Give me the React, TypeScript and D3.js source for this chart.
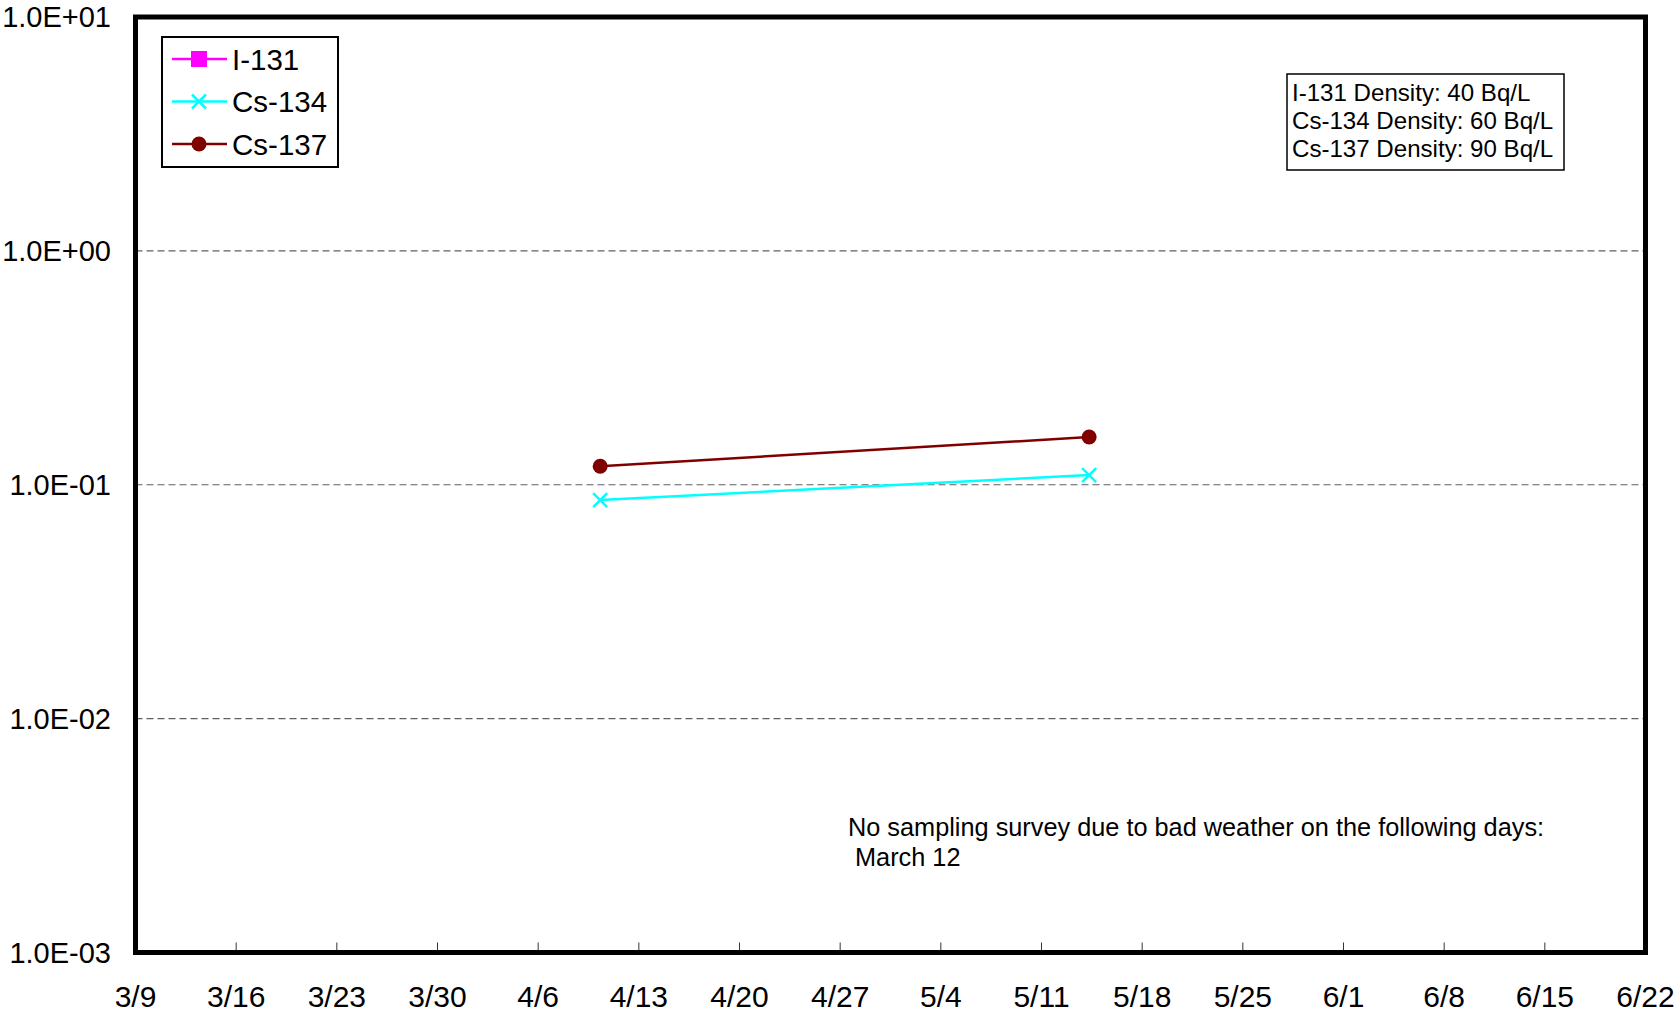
import React from "react";
import * as d3 from "d3";

const W = 1676;
const H = 1013;

const seriesNames = ["I-131", "Cs-134", "Cs-137"];
const seriesColors = ["#FF00FF", "#00FFFF", "#800000"];
const sampleDates = ["2011-04-10T07:30", "2011-05-14T07:30"];
const i131Values: (number | null)[] = [null, null];
const cs134Values: (number | null)[] = [0.086, 0.11];
const cs137Values: (number | null)[] = [0.12, 0.16];
const yTicks = [1e-3, 1e-2, 1e-1, 1, 10];
const densityLines = [
  "I-131 Density: 40 Bq/L",
  "Cs-134 Density: 60 Bq/L",
  "Cs-137 Density: 90 Bq/L",
];
const noteLines = [
  "No sampling survey due to bad weather on the following days:",
  " March 12",
];
const xStart = "2011-03-09T00:00";
const xEnd = "2011-06-22T00:00";

const FONT = "'Liberation Sans', Arial, sans-serif";

const parse = d3.utcParse("%Y-%m-%dT%H:%M");

function fmtExp(v: number) {
  const e = Math.round(Math.log10(v));
  const sign = e < 0 ? "-" : "+";
  const a = Math.abs(e);
  return `1.0E${sign}${a < 10 ? "0" + a : a}`;
}

export default function App() {
  const left = 135.5, right = 1645.5, top = 17, bottom = 952.5;
  const start = parse(xStart)!;
  const x = d3.scaleUtc().domain([start, parse(xEnd)!]).range([left, right]);
  const y = d3.scaleLog().domain([1e-3, 10]).range([bottom, top]);
  const weekTicks: Date[] = [];
  for (let i = 0; i <= 15; i++) weekTicks.push(d3.utcDay.offset(start, i * 7));
  const xFmt = d3.utcFormat("%-m/%-d");
  const dates = sampleDates.map((s) => parse(s)!);
  const allValues = [i131Values, cs134Values, cs137Values];

  const line = d3
    .line<[Date, number | null]>()
    .defined((d) => d[1] != null)
    .x((d) => x(d[0]))
    .y((d) => y(d[1] as number));

  const marker = (k: number, cx: number, cy: number, key: string) => {
    const c = seriesColors[k];
    if (k === 0) return <rect key={key} x={cx - 8} y={cy - 8} width={16} height={16} fill={c} />;
    if (k === 1)
      return (
        <path key={key} d={`M${cx - 7},${cy - 7}L${cx + 7},${cy + 7}M${cx - 7},${cy + 7}L${cx + 7},${cy - 7}`} stroke={c} strokeWidth={2.5} fill="none" />
      );
    return <circle key={key} cx={cx} cy={cy} r={7.5} fill={c} />;
  };

  return (
    <svg width={W} height={H} style={{ position: "absolute", left: 0, top: 0, background: "#fff" }} fontFamily={FONT}>
      <rect x={0} y={0} width={W} height={H} fill="#fff" />
      {yTicks.slice(1, -1).map((t) => (
        <line key={"g" + t} x1={left} x2={right} y1={y(t)} y2={y(t)} stroke="#606060" strokeWidth={1.2} strokeDasharray="7,4" />
      ))}
      {weekTicks.slice(1, -1).map((t, i) => (
        <line key={"t" + i} x1={x(t)} x2={x(t)} y1={bottom} y2={bottom - 10} stroke="#333" strokeWidth={1} />
      ))}
      {allValues.map((vals, k) => (
        <g key={"s" + k}>
          <path d={line(dates.map((d, i) => [d, vals[i]] as [Date, number | null])) || ""} fill="none" stroke={seriesColors[k]} strokeWidth={2.5} />
          {dates.map((d, i) => (vals[i] != null ? marker(k, x(d), y(vals[i] as number), `m${k}-${i}`) : null))}
        </g>
      ))}
      <rect x={left} y={top} width={right - left} height={bottom - top} fill="none" stroke="#000" strokeWidth={5} />
      {yTicks.map((t) => (
        <text key={"yl" + t} x={111} y={y(t)} dy="0.36em" textAnchor="end" fontSize={29} fill="#000">
          {fmtExp(t)}
        </text>
      ))}
      {weekTicks.map((t, i) => (
        <text key={"xl" + i} x={x(t)} y={996} dy="0.36em" textAnchor="middle" fontSize={30} fill="#000">
          {xFmt(t)}
        </text>
      ))}
      <rect x={162} y={37} width={176} height={130} fill="#fff" stroke="#000" strokeWidth={2} />
      {seriesNames.map((n, k) => {
        const cy = 59 + k * 42.5;
        return (
          <g key={"lg" + k}>
            <line x1={172} x2={227} y1={cy} y2={cy} stroke={seriesColors[k]} strokeWidth={2.5} />
            {marker(k, 199, cy, "lm" + k)}
            <text x={232} y={cy} dy="0.36em" fontSize={29.5} fill="#000">
              {n}
            </text>
          </g>
        );
      })}
      <rect x={1287} y={74} width={277} height={96} fill="#fff" stroke="#000" strokeWidth={1.5} />
      {densityLines.map((s, i) => (
        <text key={"d" + i} x={1292} y={92 + i * 28.3} dy="0.36em" fontSize={24.1} fill="#000">
          {s}
        </text>
      ))}
      {noteLines.map((s, i) => (
        <text key={"n" + i} x={848} y={827 + i * 30} dy="0.36em" fontSize={25.3} fill="#000" style={{ whiteSpace: "pre" }}>
          {s}
        </text>
      ))}
    </svg>
  );
}
